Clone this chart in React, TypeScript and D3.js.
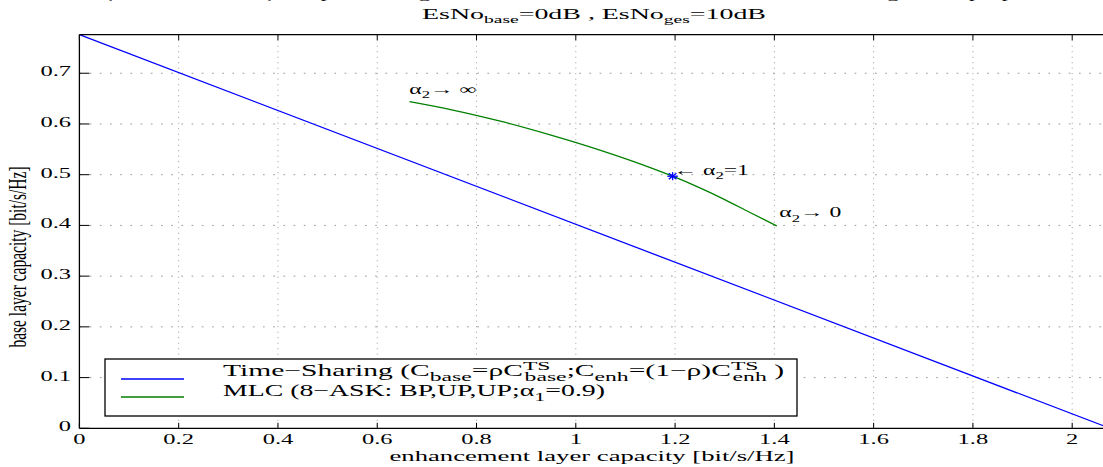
import React from 'react';
import * as d3 from 'd3';

// chart data
const xTicks = [0, 0.2, 0.4, 0.6, 0.8, 1, 1.2, 1.4, 1.6, 1.8, 2];
const yTicks = [0, 0.1, 0.2, 0.3, 0.4, 0.5, 0.6, 0.7];
const xMax = 2.076;
const yMax = 0.776;
const tsX = [0, 2.076];
const tsY = [0.776, 0];
const mlcX = [0.665, 0.75, 0.85, 0.95, 1.05, 1.15, 1.195, 1.25, 1.3, 1.35, 1.405];
const mlcY = [0.644, 0.628, 0.605, 0.578, 0.548, 0.514, 0.497, 0.474, 0.451, 0.426, 0.399];
const markX = [1.195];
const markY = [0.497];

const W = 1103;
const H = 467;
const SX = 1.69; // the original raster is stretched horizontally
const FONT = '"Liberation Serif", "Times New Roman", serif';
const BLUE = '#0000ff';
const GREEN = '#008000';

type Part = { t: string; k?: 'sub' | 'sup'; dx?: number };

function Rich({ parts, size, ratio = 0.7 }: { parts: Part[]; size: number; ratio?: number }) {
    let off = 0;
    return (
        <>
            {parts.map((p, i) => {
                const target = p.k === 'sub' ? size * 0.3 : p.k === 'sup' ? -size * 0.4 : 0;
                const dy = target - off;
                off = target;
                return (
                    <tspan key={i} dy={dy} dx={p.dx} fontSize={p.k ? size * ratio : size}>
                        {p.t}
                    </tspan>
                );
            })}
        </>
    );
}

function SText(props: {
    x: number; y: number; size: number; anchor?: string; baseline?: string;
    rotate?: number; parts?: Part[]; ratio?: number; len?: number; children?: React.ReactNode;
}) {
    const { x, y, size, anchor = 'start', baseline, rotate, parts, ratio, len, children } = props;
    const tr = `translate(${x},${y}) scale(${SX},1)` + (rotate ? ` rotate(${rotate})` : '');
    return (
        <g transform={tr}>
            <text fontFamily={FONT} fontSize={size} textAnchor={anchor}
                  dominantBaseline={baseline} fill="#000"
                  textLength={len ? len / SX : undefined}
                  lengthAdjust={len ? 'spacingAndGlyphs' : undefined}>
                {parts ? <Rich parts={parts} size={size} ratio={ratio} /> : children}
            </text>
        </g>
    );
}

export default function App() {
    const left = 79.4, top = 34.7, bottom = 428.3;
    const x = d3.scaleLinear().domain([0, xMax]).range([left, left + xMax * 496.4]);
    const y = d3.scaleLinear().domain([0, yMax]).range([bottom, top]);
    const right = x(xMax);

    const line = d3.line<[number, number]>().x(d => x(d[0])).y(d => y(d[1]));
    const tsPath = line(tsX.map((v, i) => [v, tsY[i]]))!;
    const mlcPath = line.curve(d3.curveMonotoneX)(mlcX.map((v, i) => [v, mlcY[i]]))!;

    const legendParts1: Part[] = [
        { t: 'Time−Sharing (C' }, { t: 'base', k: 'sub' }, { t: '=ρC' },
        { t: 'TS', k: 'sup' }, { t: 'base', k: 'sub', dx: -14 }, { t: ';C' },
        { t: 'enh', k: 'sub' }, { t: '=(1−ρ)C' },
        { t: 'TS', k: 'sup' }, { t: 'enh', k: 'sub', dx: -14 }, { t: ' )' },
    ];
    const legendParts2: Part[] = [
        { t: 'MLC (8−ASK: BP,UP,UP;α' }, { t: '1', k: 'sub' }, { t: '=0.9)' },
    ];

    return (
        <svg width={W} height={H} style={{ position: 'absolute', left: 0, top: 0, background: '#fff' }}>
            <rect width={W} height={H} fill="#fff" />

            {/* grid */}
            {xTicks.filter(t => t > 0).map(t => (
                <line key={'gx' + t} x1={x(t)} x2={x(t)} y1={top} y2={bottom}
                      stroke="#9a9a9a" strokeWidth={1} strokeDasharray="1,4.5" />
            ))}
            {yTicks.filter(t => t > 0).map(t => (
                <line key={'gy' + t} x1={left} x2={right} y1={y(t)} y2={y(t)}
                      stroke="#9a9a9a" strokeWidth={1} strokeDasharray="1.7,8.5" />
            ))}

            {/* series */}
            <path d={tsPath} fill="none" stroke={BLUE} strokeWidth={1.3} />
            <path d={mlcPath} fill="none" stroke={GREEN} strokeWidth={1.3} />
            {markX.map((v, i) => {
                const cx = x(v), cy = y(markY[i]);
                return (
                    <g key={'m' + i} stroke={BLUE} strokeWidth={1.3}>
                        <line x1={cx - 5.3} x2={cx + 5.3} y1={cy} y2={cy} />
                        <line x1={cx} x2={cx} y1={cy - 4} y2={cy + 4} />
                        <line x1={cx - 3.8} x2={cx + 3.8} y1={cy - 2.9} y2={cy + 2.9} />
                        <line x1={cx - 3.8} x2={cx + 3.8} y1={cy + 2.9} y2={cy - 2.9} />
                    </g>
                );
            })}

            {/* axes box */}
            <line x1={left} x2={right} y1={top} y2={top} stroke="#000" strokeWidth={1.3} />
            <line x1={left} x2={right} y1={bottom} y2={bottom} stroke="#000" strokeWidth={1.3} />
            <line x1={left} x2={left} y1={top} y2={bottom} stroke="#000" strokeWidth={1.3} />
            {xTicks.map(t => (
                <g key={'tx' + t} stroke="#000" strokeWidth={1}>
                    <line x1={x(t)} x2={x(t)} y1={bottom} y2={bottom - 5.5} />
                    <line x1={x(t)} x2={x(t)} y1={top} y2={top + 5.5} />
                </g>
            ))}
            {yTicks.map(t => (
                <line key={'ty' + t} x1={left} x2={left + 10} y1={y(t)} y2={y(t)}
                      stroke="#000" strokeWidth={1} />
            ))}

            {/* tick labels */}
            {xTicks.map(t => (
                <SText key={'lx' + t} x={x(t)} y={444} size={14.5} anchor="middle">
                    {d3.format('~g')(t)}
                </SText>
            ))}
            {yTicks.map(t => (
                <SText key={'ly' + t} x={71} y={y(t) - 2} size={14.5} anchor="end" baseline="central">
                    {d3.format('~g')(t)}
                </SText>
            ))}

            {/* titles (first line is cut off by the top edge, as in the original) */}
            <SText x={594} y={-2.5} size={15} anchor="middle" len={980}>
                (C_base, C_enh)−Kapazitätsregion, hierarchische Modulation: Time−Sharing vs. Superposition
            </SText>
            <SText x={594} y={18.5} size={15} anchor="middle" len={344}
                   parts={[{ t: 'EsNo' }, { t: 'base', k: 'sub' }, { t: '=0dB , EsNo' },
                       { t: 'ges', k: 'sub' }, { t: '=10dB' }]} />
            <SText x={592} y={461} size={15} anchor="middle" len={405}>
                enhancement layer capacity [bit/s/Hz]
            </SText>
            <SText x={26} y={257} size={15.5} anchor="middle" rotate={-90}>
                base layer capacity [bit/s/Hz]
            </SText>

            {/* annotations */}
            <SText x={409.3} y={94} size={14}
                   parts={[{ t: 'α' }, { t: '2', k: 'sub' }, { t: '→ ∞' }]} />
            <SText x={673.5} y={175} size={14}
                   parts={[{ t: '← α' }, { t: '2', k: 'sub' }, { t: '=1' }]} />
            <SText x={779.3} y={217.3} size={14}
                   parts={[{ t: 'α' }, { t: '2', k: 'sub' }, { t: '→ 0' }]} />

            {/* legend */}
            <rect x={105} y={359} width={692} height={57} fill="#fff" stroke="#000" strokeWidth={1.3} />
            <line x1={121} x2={184} y1={379} y2={379} stroke={BLUE} strokeWidth={1.3} />
            <line x1={121} x2={184} y1={397} y2={397} stroke={GREEN} strokeWidth={1.3} />
            <SText x={223} y={376} size={16} ratio={0.8} len={561} parts={legendParts1} />
            <SText x={223} y={396} size={16} ratio={0.8} len={382} parts={legendParts2} />
        </svg>
    );
}
